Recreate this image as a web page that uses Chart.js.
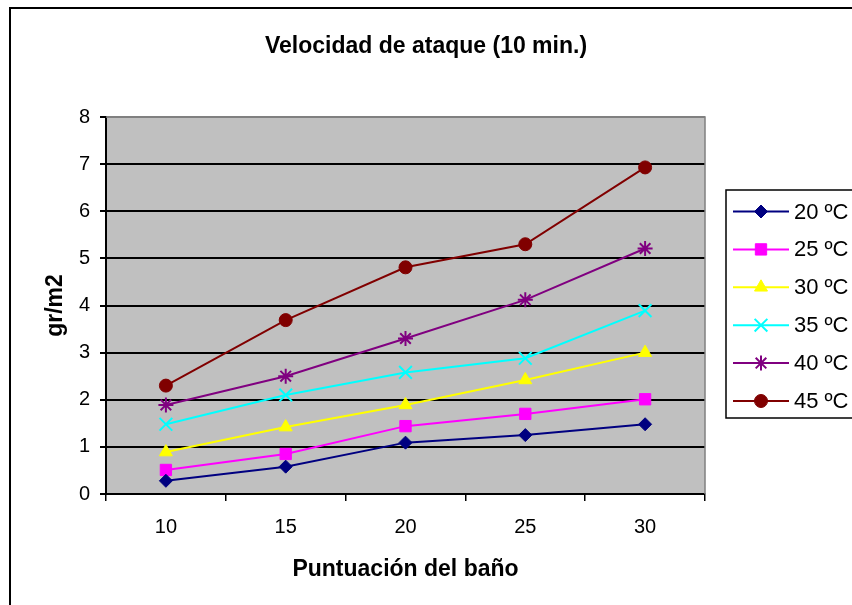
<!DOCTYPE html>
<html>
<head>
<meta charset="utf-8">
<script src="https://cdn.jsdelivr.net/npm/chart.js@4/dist/chart.umd.min.js"></script>
<style>
  html, body { margin: 0; padding: 0; background: #fff; }
  canvas { display: block; }
</style>
</head>
<body>
<canvas id="chart" width="852" height="605"></canvas>
<script>
const categories = ["10", "15", "20", "25", "30"];
const seriesNames = ["20 ºC", "25 ºC", "30 ºC", "35 ºC", "40 ºC", "45 ºC"];
const s20 = [0.28, 0.58, 1.09, 1.25, 1.48];
const s25 = [0.51, 0.85, 1.44, 1.70, 2.01];
const s30 = [0.89, 1.42, 1.89, 2.42, 3.0];
const s35 = [1.48, 2.1, 2.58, 2.88, 3.89];
const s40 = [1.89, 2.5, 3.3, 4.12, 5.21];
const s45 = [2.3, 3.69, 4.81, 5.3, 6.93];
const yTicks = [0, 1, 2, 3, 4, 5, 6, 7, 8];

const FONT = "'Liberation Sans', Arial, sans-serif";

const styles = [
    { color: "#000080", pointStyle: "rectRot", radius: 6.5, bw: 1 },
    { color: "#FF00FF", pointStyle: "rect", radius: 8, bw: 1 },
    { color: "#FFFF00", pointStyle: "triangle", radius: 7.5, bw: 1 },
    { color: "#00FFFF", pointStyle: "crossRot", radius: 9, bw: 2 },
    { color: "#800080", pointStyle: "star", radius: 7.5, bw: 2 },
    { color: "#800000", pointStyle: "circle", radius: 6.5, bw: 1 }
];
const values = [s20, s25, s30, s35, s40, s45];

const datasets = values.map((data, i) => ({
    label: seriesNames[i],
    data: data,
    borderColor: styles[i].color,
    backgroundColor: styles[i].color,
    borderWidth: 2,
    pointStyle: styles[i].pointStyle,
    pointRadius: styles[i].radius,
    pointHoverRadius: styles[i].radius,
    pointBorderWidth: styles[i].bw,
    pointBorderColor: styles[i].color,
    pointBackgroundColor: styles[i].color,
    tension: 0
}));

// plot background, outer frame, plot frame and legend box
const frame = {
    id: "frame",
    beforeDraw(chart) {
        const { ctx, chartArea: a } = chart;
        ctx.save();
        ctx.fillStyle = "#C0C0C0";
        ctx.fillRect(a.left, a.top, a.right - a.left, a.bottom - a.top);
        ctx.strokeStyle = "#000";
        ctx.lineWidth = 2;
        ctx.beginPath();
        ctx.moveTo(10, 605);
        ctx.lineTo(10, 8);
        ctx.lineTo(852, 8);
        ctx.stroke();
        ctx.restore();
    },
    beforeDatasetsDraw(chart) {
        const { ctx, chartArea: a } = chart;
        ctx.save();
        ctx.strokeStyle = "#808080";
        ctx.lineWidth = 1.5;
        ctx.beginPath();
        ctx.moveTo(a.left, a.top);
        ctx.lineTo(a.right, a.top);
        ctx.lineTo(a.right, a.bottom);
        ctx.stroke();
        ctx.restore();
    },
    afterDraw(chart) {
        const ctx = chart.ctx;
        ctx.save();
        ctx.strokeStyle = "#000";
        ctx.lineWidth = 1.5;
        ctx.strokeRect(726, 190, 200, 228);
        chart.data.datasets.forEach((ds, i) => {
            const y = 211.5 + i * 37.9;
            ctx.strokeStyle = ds.borderColor;
            ctx.fillStyle = ds.backgroundColor;
            ctx.lineWidth = 2;
            ctx.beginPath();
            ctx.moveTo(733, y);
            ctx.lineTo(789, y);
            ctx.stroke();
            ctx.lineWidth = ds.pointBorderWidth;
            Chart.helpers.drawPoint(ctx, {
                pointStyle: ds.pointStyle,
                radius: ds.pointRadius,
                rotation: 0,
                borderWidth: ds.pointBorderWidth
            }, 761, y);
            ctx.fillStyle = "#000";
            ctx.font = "22px " + FONT;
            ctx.textAlign = "left";
            ctx.textBaseline = "middle";
            ctx.fillText(ds.label, 794, y + 1);
        });
        ctx.restore();
    }
};

new Chart(document.getElementById("chart"), {
    type: "line",
    data: { labels: categories, datasets: datasets },
    plugins: [frame],
    options: {
        responsive: false,
        animation: false,
        events: [],
        layout: { padding: 0 },
        plugins: {
            legend: { display: false },
            tooltip: { enabled: false },
            title: {
                display: true,
                text: "Velocidad de ataque (10 min.)",
                color: "#000",
                font: { family: FONT, size: 23, weight: "bold" },
                padding: { top: 33, bottom: 56.4 }
            }
        },
        scales: {
            x: {
                type: "category",
                offset: true,
                afterFit(scale) { scale.height = 111; },
                grid: {
                    offset: true,
                    drawOnChartArea: false,
                    color: "#000",
                    tickColor: "#000",
                    tickLength: 7,
                    lineWidth: 1.5
                },
                border: { color: "#000", width: 2 },
                ticks: {
                    color: "#000",
                    font: { family: FONT, size: 20 },
                    padding: 14,
                    maxRotation: 0
                },
                title: {
                    display: true,
                    text: "Puntuación del baño",
                    color: "#000",
                    font: { family: FONT, size: 23, weight: "bold" },
                    padding: { top: 0, bottom: 21.5 }
                }
            },
            y: {
                min: yTicks[0],
                max: yTicks[yTicks.length - 1],
                afterFit(scale) { scale.width = 106; },
                afterBuildTicks(scale) { scale.ticks = yTicks.map(v => ({ value: v })); },
                grid: {
                    color: ctx => (ctx.tick && ctx.tick.value === 8 ? "#808080" : "#000"),
                    tickColor: "#000",
                    tickLength: 6,
                    lineWidth: 2
                },
                border: { color: "#000", width: 2 },
                ticks: {
                    color: "#000",
                    font: { family: FONT, size: 20 },
                    padding: 10
                },
                title: {
                    display: true,
                    text: "gr/m2",
                    color: "#000",
                    font: { family: FONT, size: 23, weight: "bold" },
                    padding: { top: 42, bottom: 0 }
                }
            },
            space: {
                position: "right",
                display: true,
                afterFit(scale) { scale.width = 147; },
                grid: { display: false },
                border: { display: false },
                ticks: { display: false }
            }
        }
    }
});
</script>
</body>
</html>
